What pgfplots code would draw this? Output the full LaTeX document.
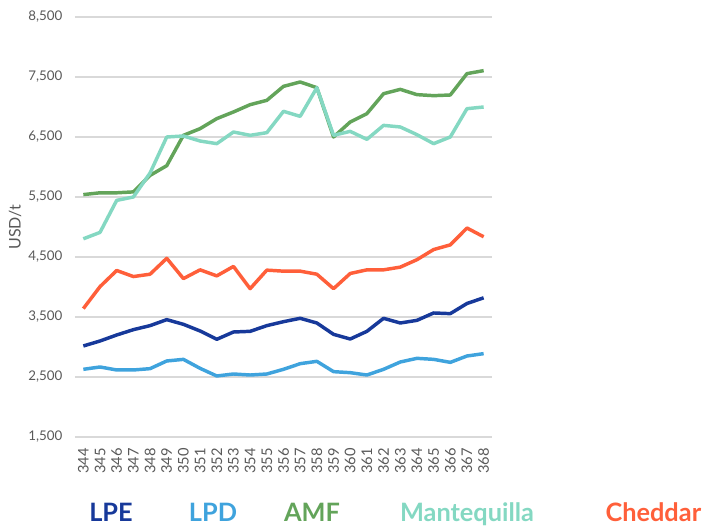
\documentclass[border=0pt]{standalone}
\usepackage{pgfplots}
\pgfplotsset{compat=1.18}
\usepackage{fontspec}
\setmainfont{Lato}
\definecolor{cLPE}{HTML}{17399A}
\definecolor{cLPD}{HTML}{3FA3DD}
\definecolor{cAMF}{HTML}{63A45A}
\definecolor{cMAN}{HTML}{84D8C2}
\definecolor{cCHE}{HTML}{FF5F3A}
\definecolor{tickgray}{HTML}{595959}
\definecolor{gridgray}{HTML}{D9D9D9}
\begin{document}
\begin{tikzpicture}
\useasboundingbox (0,0) rectangle (541.5pt,396pt);
\begin{axis}[
  at={(56.25pt,68.25pt)}, anchor=south west,
  scale only axis, width=312.75pt, height=315pt,
  xmin=343.5, xmax=368.5, ymin=1500, ymax=8500,
  xtick={344,...,368},
  ytick={1500,2500,...,8500},
  axis line style={draw=none},
  major tick length=0pt,
  ymajorgrids, grid style={gridgray, line width=0.8pt},
  tick label style={text=tickgray},
  /pgf/number format/assume math mode=true,
  /pgf/number format/1000 sep={,},
  yticklabel style={xshift=-6pt, font=\fontsize{10}{12}\selectfont},
  xticklabel style={rotate=90, anchor=east, font=\fontsize{11}{13}\selectfont},
  xticklabel shift=5pt,
  every axis plot/.append style={line width=2.6pt, line join=round, mark=none},
]
\addplot[cLPE] coordinates {(344,3017)(345,3100)(346,3200)(347,3289)(348,3356)(349,3456)(350,3378)(351,3267)(352,3128)(353,3250)(354,3261)(355,3356)(356,3422)(357,3478)(358,3400)(359,3211)(360,3133)(361,3261)(362,3478)(363,3400)(364,3444)(365,3567)(366,3556)(367,3725)(368,3820)};
\addplot[cLPD] coordinates {(344,2628)(345,2667)(346,2617)(347,2617)(348,2639)(349,2767)(350,2794)(351,2644)(352,2517)(353,2550)(354,2533)(355,2550)(356,2628)(357,2722)(358,2761)(359,2589)(360,2572)(361,2533)(362,2628)(363,2750)(364,2811)(365,2794)(366,2744)(367,2850)(368,2889)};
\addplot[cAMF] coordinates {(344,5540)(345,5570)(346,5570)(347,5585)(348,5860)(349,6022)(350,6528)(351,6639)(352,6806)(353,6917)(354,7039)(355,7111)(356,7344)(357,7417)(358,7322)(359,6500)(360,6750)(361,6889)(362,7222)(363,7294)(364,7206)(365,7189)(366,7200)(367,7556)(368,7606)};
\addplot[cMAN] coordinates {(344,4803)(345,4910)(346,5444)(347,5500)(348,5900)(349,6500)(350,6517)(351,6433)(352,6389)(353,6583)(354,6528)(355,6572)(356,6928)(357,6844)(358,7322)(359,6528)(360,6594)(361,6461)(362,6694)(363,6667)(364,6539)(365,6389)(366,6500)(367,6972)(368,7000)};
\addplot[cCHE] coordinates {(344,3640)(345,4006)(346,4275)(347,4174)(348,4213)(349,4478)(350,4140)(351,4286)(352,4185)(353,4343)(354,3972)(355,4281)(356,4264)(357,4264)(358,4213)(359,3972)(360,4225)(361,4286)(362,4286)(363,4331)(364,4455)(365,4624)(366,4702)(367,4983)(368,4837)};
\end{axis}
\node[rotate=90, text=tickgray, font=\fontsize{12}{14}\selectfont] at (11.25pt,225.75pt) {USD/t};
\begin{scope}[every node/.style={anchor=base, inner sep=0pt, font=\fontsize{19}{22}\selectfont\bfseries}]
\node[text=cLPE] at (83.25pt,4.5pt) {LPE};
\node[text=cLPD] at (159.75pt,4.5pt) {LPD};
\node[text=cAMF] at (234pt,4.5pt) {AMF};
\node[text=cMAN] at (350.25pt,4.5pt) {Mantequilla};
\node[text=cCHE] at (490pt,4.5pt) {Cheddar};
\end{scope}
\end{tikzpicture}
\end{document}
